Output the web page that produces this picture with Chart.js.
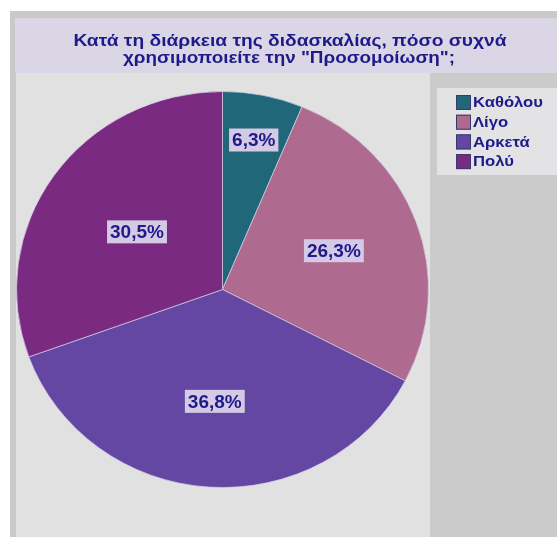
<!DOCTYPE html>
<html>
<head>
<meta charset="utf-8">
<script src="https://cdn.jsdelivr.net/npm/chart.js@4/dist/chart.umd.min.js"></script>
<style>
  html, body { margin: 0; padding: 0; background: #ffffff; }
  #wrap { position: relative; width: 557px; height: 537px; }
</style>
</head>
<body>
<div id="wrap"><canvas id="c" width="557" height="537"></canvas></div>
<script>
// Survey answers and their shares (percent)
const categories = ["Καθόλου", "Λίγο", "Αρκετά", "Πολύ"];
const shares = [6.3, 26.3, 36.8, 30.5];
const titleLines = ["Κατά τη διάρκεια της διδασκαλίας, πόσο συχνά", "χρησιμοποιείτε την \"Προσομοίωση\";"];

const sliceColors = ["#1f6779", "#ae6a8f", "#6347a2", "#7a2a80"];
const labelRadius = [0.77, 0.575, 0.566, 0.507];
const squash = 198.5 / 206.5;   // the pie is drawn slightly flattened
const navy = "#1f1a8a";

function fmt(v) { return v.toFixed(1).replace(".", ",") + "%"; }

// draw text widened horizontally by factor sx, anchored at (x, y)
function wideText(ctx, text, x, y, sx, align) {
  ctx.save();
  ctx.translate(x, y);
  ctx.scale(sx, 1);
  ctx.textAlign = align;
  ctx.fillText(text, 0, 0);
  ctx.restore();
}

const panels = {
  id: "panels",
  beforeDraw(chart) {
    const ctx = chart.ctx;
    ctx.save();
    ctx.fillStyle = "#ffffff";
    ctx.fillRect(0, 0, 557, 537);
    ctx.fillStyle = "#c9c9c9";
    ctx.fillRect(10, 11, 547, 526);
    ctx.fillStyle = "#dbd6e5";
    ctx.fillRect(15, 18, 542, 55);
    ctx.fillStyle = "#e1e1e1";
    ctx.fillRect(16, 73, 414, 464);
    ctx.fillStyle = "#cbcbcb";
    ctx.fillRect(430, 73, 127, 464);
    // title
    ctx.fillStyle = navy;
    ctx.font = "bold 17px 'Liberation Sans', Arial, sans-serif";
    ctx.textBaseline = "middle";
    wideText(ctx, titleLines[0], 290, 41, 1.13, "center");
    wideText(ctx, titleLines[1], 289, 58, 1.11, "center");
    // legend
    ctx.fillStyle = "#e3e3e5";
    ctx.fillRect(437, 88, 120, 87);
    ctx.font = "bold 15px 'Liberation Sans', Arial, sans-serif";
    categories.forEach((name, i) => {
      const y = 102 + i * 19.7;
      ctx.fillStyle = sliceColors[i];
      ctx.fillRect(456, y - 7, 15, 15);
      ctx.strokeStyle = "#3a3a6a";
      ctx.lineWidth = 1;
      ctx.strokeRect(456.5, y - 6.5, 14, 14);
      ctx.fillStyle = navy;
      wideText(ctx, name, 473, y + 1, 1.11, "left");
    });
    ctx.restore();
  },
  beforeDatasetsDraw(chart) {
    const meta = chart.getDatasetMeta(0);
    const a = meta.data[0];
    const ctx = chart.ctx;
    ctx.save();
    ctx.translate(a.x, a.y);
    ctx.scale(1, squash);
    ctx.translate(-a.x, -a.y);
  },
  afterDatasetsDraw(chart) {
    chart.ctx.restore();
  },
  afterDraw(chart) {
    const meta = chart.getDatasetMeta(0);
    const ctx = chart.ctx;
    ctx.save();
    ctx.font = "bold 19px 'Liberation Sans', Arial, sans-serif";
    ctx.textAlign = "center";
    ctx.textBaseline = "middle";
    meta.data.forEach((arc, i) => {
      const mid = (arc.startAngle + arc.endAngle) / 2;
      const r = arc.outerRadius * labelRadius[i];
      const x = arc.x + Math.cos(mid) * r;
      const y = arc.y + Math.sin(mid) * r * squash;
      const text = fmt(chart.data.datasets[0].data[i]);
      const w = ctx.measureText(text).width + 6;
      ctx.fillStyle = "#d5cae6";
      ctx.fillRect(x - w / 2, y - 11.5, w, 23);
      ctx.fillStyle = navy;
      ctx.fillText(text, x, y + 1);
    });
    ctx.restore();
  }
};

new Chart(document.getElementById("c"), {
  type: "pie",
  data: {
    labels: categories,
    datasets: [{
      data: shares,
      backgroundColor: sliceColors,
      borderColor: "rgba(215,210,235,0.7)",
      borderWidth: 1
    }]
  },
  options: {
    responsive: false,
    animation: false,
    events: [],
    layout: { padding: { left: 16, right: 128, top: 83, bottom: 41 } },
    plugins: {
      legend: { display: false },
      title: { display: false },
      tooltip: { enabled: false }
    }
  },
  plugins: [panels]
});
</script>
</body>
</html>
